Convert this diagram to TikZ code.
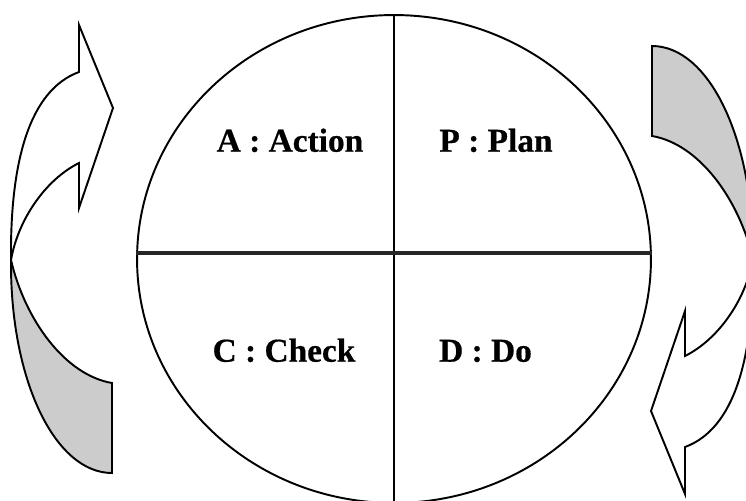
\documentclass[tikz,border=0pt]{standalone}
\usepackage{fontspec}
\setmainfont{Liberation Serif}
\newfontfamily\quarterfont{Liberation Serif Bold}[FakeBold=0.6]
\usetikzlibrary{shapes.geometric}

\begin{document}
\begin{tikzpicture}[x=0.02cm, y=-0.02cm,
    outline/.style={
        draw=black,
        line width=1.1pt,
        line join=miter
    },
    divider/.style={
        draw=black!85,
        line width=2pt
    },
    quarter/.style={
        font=\quarterfont\fontsize{19}{23}\selectfont,
        anchor=base,
        inner sep=0pt
    },
    cyclearrow/.pic={
        % --- front face with head ---
        \path[outline, fill=white]
            (79,72) .. controls (30,90) and (10,160) .. (11,260)
            .. controls (18,220) and (45,180) .. (79,163)
            -- (79,208) -- (113,108) -- (79,25) -- cycle;
        % --- back face ---
        \path[outline, fill=gray!40]
            (11,260) .. controls (10,380) and (55,473) .. (112,473)
            -- (112,383)
            .. controls (65,375) and (25,320) .. (11,260) -- cycle;
    }
]

\useasboundingbox (0,0) rectangle (746,500);
\clip (0,0) rectangle (746,500);

%%%%%%%%%%%%%%%%%%%%%%%%
% Wheel
%%%%%%%%%%%%%%%%%%%%%%%%

\node[draw, ellipse, line width=1.1pt, inner sep=0pt,
      minimum width=10.28cm, minimum height=9.76cm] (wheel) at (394,259) {};

\draw[outline] (wheel.north) -- (wheel.south);
\draw[divider] (wheel.west |- 0,253) -- (wheel.east |- 0,253);

% --- Quarters ---
\node[quarter] (act) at (290,151.7) {A : Action};
\node[quarter] (plan) at (496,151.7) {P : Plan};
\node[quarter] (check) at (284,361.7) {C : Check};
\node[quarter] (do) at (485.5,361.7) {D : Do};

%%%%%%%%%%%%%%%%%%%%%%%%
% Curved arrows
%%%%%%%%%%%%%%%%%%%%%%%%

\pic at (0,0) {cyclearrow};
\pic[rotate=180] at (764,519) {cyclearrow};

\end{tikzpicture}
\end{document}
